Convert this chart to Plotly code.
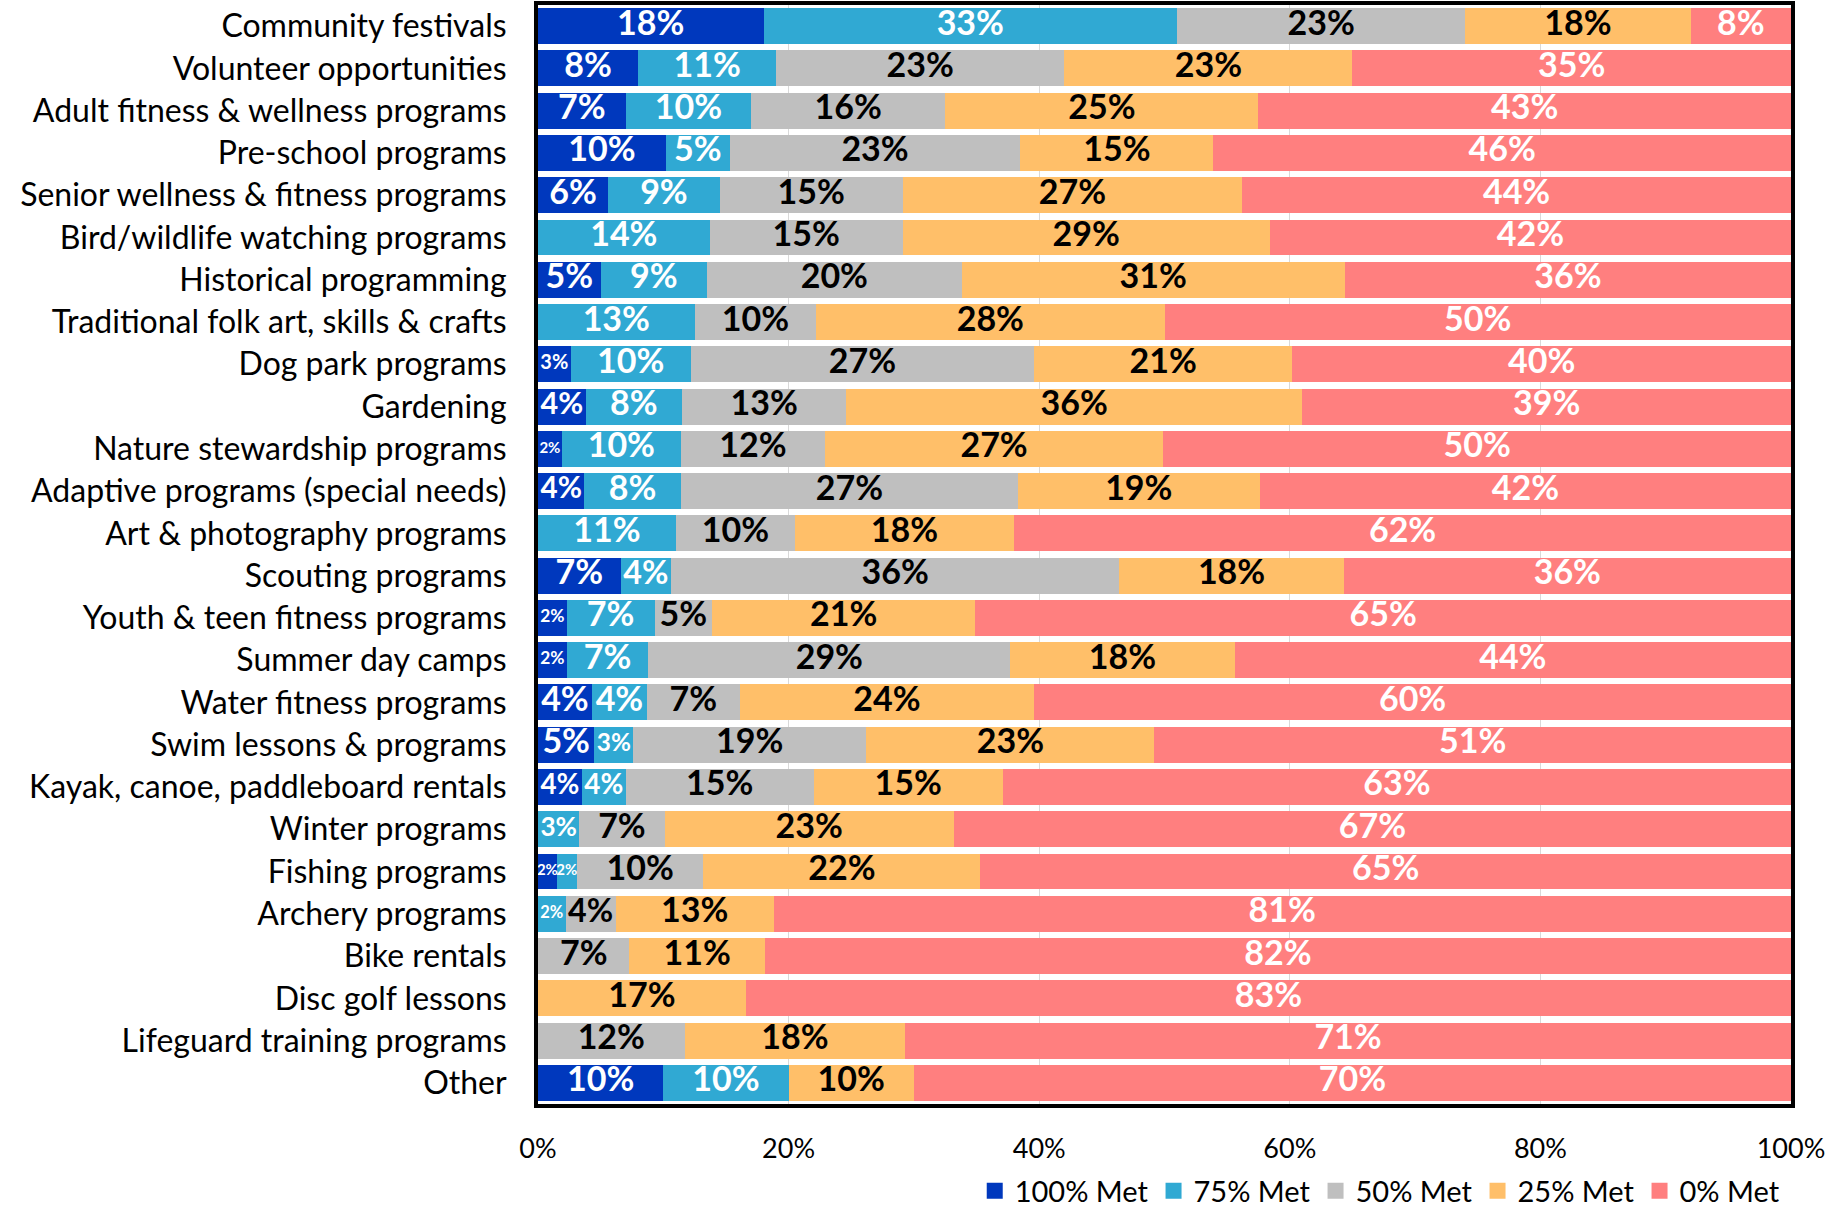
import plotly.graph_objects as go

categories = [
    "Community festivals", "Volunteer opportunities", "Adult fitness & wellness programs",
    "Pre-school programs", "Senior wellness & fitness programs", "Bird/wildlife watching programs",
    "Historical programming", "Traditional folk art, skills & crafts", "Dog park programs",
    "Gardening", "Nature stewardship programs", "Adaptive programs (special needs)",
    "Art & photography programs", "Scouting programs", "Youth & teen fitness programs",
    "Summer day camps", "Water fitness programs", "Swim lessons & programs",
    "Kayak, canoe, paddleboard rentals", "Winter programs", "Fishing programs",
    "Archery programs", "Bike rentals", "Disc golf lessons", "Lifeguard training programs", "Other",
]

met_100 = [18, 8, 7, 10.2, 5.6, 0, 5.0, 0, 2.6, 3.8, 1.9, 3.7, 0, 6.6, 2.3, 2.3, 4.3, 4.5, 3.5, 0, 1.5, 0, 0, 0, 0, 10]
met_75 = [33, 11, 10, 5.1, 8.9, 13.7, 8.5, 12.5, 9.6, 7.7, 9.5, 7.7, 11.0, 4.0, 7.0, 6.5, 4.4, 3.1, 3.5, 3.3, 1.6, 2.2, 0, 0, 0, 10]
met_50 = [23, 23, 15.5, 23.2, 14.6, 15.4, 20.3, 9.7, 27.4, 13.1, 11.5, 26.9, 9.5, 35.8, 4.6, 28.9, 7.4, 18.6, 15.0, 6.8, 10.1, 4.0, 7.3, 0, 11.7, 0]
met_25 = [18, 23, 25, 15.4, 27.1, 29.3, 30.6, 27.8, 20.6, 36.4, 27.0, 19.3, 17.5, 17.9, 21.0, 17.9, 23.5, 23.0, 15.1, 23.1, 22.1, 12.6, 10.8, 16.6, 17.6, 10]
met_0 = [8, 35, 42.5, 46.1, 43.8, 41.6, 35.6, 50.0, 39.8, 39.0, 50.1, 42.4, 62.0, 35.7, 65.1, 44.4, 60.4, 50.8, 62.9, 66.8, 64.7, 81.2, 81.9, 83.4, 70.7, 70]

series_names = ["100% Met", "75% Met", "50% Met", "25% Met", "0% Met"]
series_values = [met_100, met_75, met_50, met_25, met_0]
series_colors = ["#0038BD", "#30A9D3", "#BFBFBF", "#FFBF69", "#FF7F7F"]
text_colors = ["white", "white", "black", "black", "white"]

tick_vals = [0, 20, 40, 60, 80, 100]
tick_text = ["0%", "20%", "40%", "60%", "80%", "100%"]

FONT = "Lato, Carlito, Calibri, sans-serif"
W, H = 1845, 1209
ML, MR, MT, MB = 538, 54, 5, 105
PX_PER_PCT = (W - ML - MR) / 100.0
BASE_SIZE = 34

fig = go.Figure()

# stacked bars
for name, vals, col in zip(series_names, series_values, series_colors):
    fig.add_trace(go.Bar(
        y=categories, x=vals, name=name, orientation="h",
        marker=dict(color=col, line=dict(width=0)),
        showlegend=False, hoverinfo="x+y+name",
    ))

# segment labels (computed from the data: centre of each stacked segment)
cum = [0.0] * len(categories)
for vals, tcol in zip(series_values, text_colors):
    xs, ys, txt, sizes = [], [], [], []
    for i, v in enumerate(vals):
        if v > 0:
            label = f"{int(v + 0.5)}%"
            em = 0.58 * (len(label) - 1) + 0.85
            avail = v * PX_PER_PCT - 4
            size = max(15, min(BASE_SIZE, avail / em))
            xs.append(cum[i] + v / 2)
            ys.append(categories[i])
            txt.append(label)
            sizes.append(size)
        cum[i] += v
    fig.add_trace(go.Scatter(
        x=xs, y=ys, text=txt, mode="text", textposition="middle center",
        textfont=dict(family=FONT, size=sizes, color=tcol, weight="bold"),
        showlegend=False, hoverinfo="skip", cliponaxis=False,
    ))

# legend entries
for name, col in zip(series_names, series_colors):
    fig.add_trace(go.Scatter(
        x=[None], y=[None], mode="markers", name=name,
        marker=dict(symbol="square", size=24, color=col),
        showlegend=True,
    ))

fig.update_layout(
    barmode="stack",
    bargap=0.15,
    width=W, height=H,
    margin=dict(l=ML, r=MR, t=MT, b=MB, autoexpand=False),
    paper_bgcolor="white", plot_bgcolor="white",
    font=dict(family=FONT, color="black"),
    legend=dict(
        orientation="h", x=0.995, xanchor="right", y=-0.079, yanchor="middle",
        font=dict(family=FONT, size=29, color="black"),
        traceorder="normal", itemwidth=30, tracegroupgap=0,
    ),
)
fig.update_xaxes(
    range=[0, 100], tickvals=tick_vals, ticktext=tick_text,
    tickfont=dict(family=FONT, size=27, color="black"),
    showgrid=True, gridcolor="#D9D9D9", gridwidth=1,
    showline=True, linecolor="black", linewidth=4, mirror=True,
    ticks="", zeroline=False, ticklabelstandoff=18,
)
fig.update_yaxes(
    range=[len(categories) - 0.5, -0.5],
    tickfont=dict(family=FONT, size=32, color="black"),
    showline=True, linecolor="black", linewidth=4, mirror=True,
    ticks="", ticklabelstandoff=21, showgrid=False,
)

fig.write_html(
    "out.html",
    config={"displayModeBar": False},
    post_script="document.body.style.margin='0';document.body.style.overflow='hidden';",
)
